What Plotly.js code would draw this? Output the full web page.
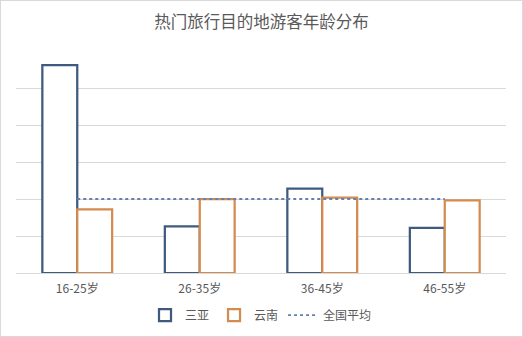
<!DOCTYPE html>
<html>
<head>
<meta charset="utf-8">
<script src="https://cdn.plot.ly/plotly-3.0.1.min.js"></script>
<style>
html,body{margin:0;padding:0;background:#fff;}
#chart{width:521px;height:335px;border:1px solid #d9d9d9;}
</style>
</head>
<body>
<div id="chart"></div>
<script>
const categories = ['16-25岁', '26-35岁', '36-45岁', '46-55岁'];
const sanya = [28.1, 6.3, 11.4, 6.1];
const yunnan = [8.6, 10.0, 10.2, 9.8];
const national = [10.0, 10.0, 10.0, 10.0];
const seriesNames = ['三亚', '云南', '全国平均'];

const font = {family: '"Noto Sans CJK SC", "Microsoft YaHei", sans-serif', color: '#595959'};

const data = [
  {type: 'bar', name: seriesNames[0], x: categories, y: sanya,
   marker: {color: '#ffffff', line: {color: '#3F5A7F', width: 2.25}}},
  {type: 'bar', name: seriesNames[1], x: categories, y: yunnan,
   marker: {color: '#ffffff', line: {color: '#D48B4F', width: 2.25}}},
  {type: 'scatter', mode: 'lines', name: seriesNames[2], x: categories, y: national,
   line: {color: '#6381AD', width: 1.8, dash: 'dot'}}
];

const layout = {
  width: 521, height: 335,
  margin: {l: 15, r: 16, t: 50, b: 63, autoexpand: false},
  paper_bgcolor: '#ffffff', plot_bgcolor: '#ffffff',
  font: Object.assign({size: 12}, font),
  title: {text: '热门旅行目的地游客年龄分布', font: Object.assign({}, font, {size: 16.5}),
          x: 0.5, xanchor: 'center', y: 1 - 21/335, yanchor: 'middle'},
  barmode: 'group', bargap: 0.43, bargroupgap: 0,
  xaxis: {showgrid: false, showline: true, linecolor: '#d9d9d9', linewidth: 1,
          ticks: '', automargin: false, ticklabelstandoff: 5,
          tickfont: Object.assign({}, font, {size: 12})},
  yaxis: {range: [0, 30], dtick: 5, showticklabels: false, gridcolor: '#d9d9d9',
          gridwidth: 1, zeroline: false, showline: false, ticks: '', automargin: false},
  showlegend: true,
  legend: {orientation: 'h', x: 0.5, xanchor: 'center', y: -0.19, yanchor: 'middle',
           font: Object.assign({}, font, {size: 12}), itemwidth: 30, tracegroupgap: 0},
  hovermode: false
};

Plotly.newPlot('chart', data, layout, {displayModeBar: false, staticPlot: true});
</script>
</body>
</html>
